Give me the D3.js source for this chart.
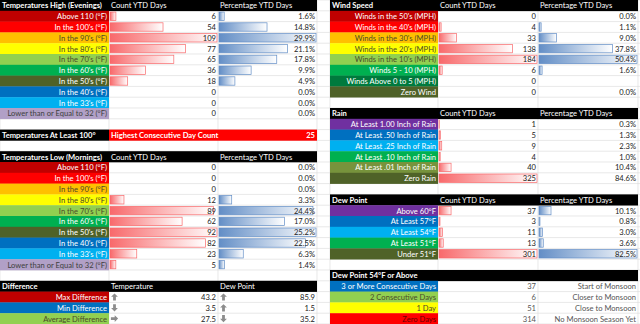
<!DOCTYPE html>
<html><head><meta charset="utf-8">
<script src="https://cdn.jsdelivr.net/npm/d3@7"></script>
<style>
body{margin:0;background:#fff}
svg{display:block}
text{font-family:Lato,'Open Sans',sans-serif;font-size:7.6px}
</style></head>
<body><svg id="c" width="640" height="324"></svg>
<script>
// ---------- DATA ----------
const tempLabels = ["Above 110 (°F)","In the 100's (°F)","In the 90's (°F)","In the 80's (°F)","In the 70's (°F)","In the 60's (°F)","In the 50's (°F)","In the 40's (°F)","In the 33's (°F)","Lower than or Equal to 32 (°F)"];
const highCounts = [6,54,109,77,65,36,18,0,0,0];
const highPct = [1.6,14.8,29.9,21.1,17.8,9.9,4.9,0.0,0.0,0.0];
const lowCounts = [0,0,0,12,89,62,92,82,23,5];
const lowPct = [0.0,0.0,0.0,3.3,24.4,17.0,25.2,22.5,6.3,1.4];
const consecutive100 = 25;

const diffLabels = ["Max Difference","Min Difference","Average Difference"];
const diffTemp = [43.2,3.5,27.5];
const diffTempDir = ["up","down","right"];
const diffDew = [85.9,1.5,35.2];
const diffDewDir = ["up","up","down"];

const windLabels = ["Winds in the 50's (MPH)","Winds in the 40's (MPH)","Winds in the 30's (MPH)","Winds in the 20's (MPH)","Winds in the 10's (MPH)","Winds 5 - 10 (MPH)","Winds Above 0 to 5 (MPH)","Zero Wind"];
const windCounts = [0,4,33,138,184,6,0,0];
const windPct = [0.0,1.1,9.0,37.8,50.4,1.6,null,0.0];

const rainLabels = ["At Least 1.00 Inch of Rain","At Least .50 Inch of Rain","At Least .25 Inch of Rain","At Least .10 Inch of Rain","At Least .01 Inch of Rain","Zero Rain"];
const rainCounts = [1,5,9,4,40,325];
const rainPct = [0.3,1.3,2.3,1.0,10.4,84.6];

const dewLabels = ["Above 60°F","At Least 57°F","At Least 54°F","At Least 51°F","Under 51°F"];
const dewCounts = [37,3,11,13,301];
const dewPct = [10.1,0.8,3.0,3.6,82.5];

const monsoonLabels = ["3 or More Consecutive Days","2 Consecutive Days","1 Day","Zero Days"];
const monsoonCounts = [37,6,51,314];
const monsoonNotes = ["Start of Monsoon","Closer to Monsoon","Close to Monsoon","No Monsoon Season Yet"];

// ---------- STYLE ----------
const DARK = "#4a4a2a";
const tempColors = ["#c00000","#ff0000","#ffc000","#ffff00","#92d050","#00b050","#4f6228","#0070c0","#00b0f0","#b1a0c7"];
const tempText = ["#fff","#fff",DARK,DARK,DARK,"#fff","#fff","#fff","#fff","#404040"];
const windColors = ["#c00000","#ff0000","#ffc000","#ffff00","#92d050","#00b050","#007a3d","#4f6228"];
const windText = ["#fff","#fff",DARK,DARK,DARK,"#fff","#fff","#fff"];
const rainColors = ["#7030a0","#0070c0","#00b0f0","#00b050","#77933c","#4f6228"];
const dewColors = ["#7030a0","#0070c0","#00b0f0","#00b050","#4f6228"];
const monsoonColors = ["#0070c0","#92d050","#ffff00","#ff0000"];
const monsoonText = ["#fff",DARK,DARK,"#6b0000"];
const diffColors = ["#c00000","#0070c0","#92d050"];
const diffText = ["#fff","#fff",DARK];

const W = 640, H = 324, NROWS = 30;
const y = d3.scaleLinear().domain([0, NROWS]).range([0, H]);
const rowH = y(1) - y(0);
const leftCols = [0,109,218,317];
const rightCols = [330,438,538,638];
const gridCols = [0,109,218,317,330,438,538,638];

const svg = d3.select("#c");
const defs = svg.append("defs");
function grad(id, c){
  const g = defs.append("linearGradient").attr("id", id).attr("x1","0").attr("x2","1").attr("y1","0").attr("y2","0");
  g.append("stop").attr("offset","0").attr("stop-color", c);
  g.append("stop").attr("offset","1").attr("stop-color", "#fff");
}
grad("gRed","#f8696b");
grad("gBlue","#638ec6");

svg.append("rect").attr("width",W).attr("height",H).attr("fill","#fff");
// gridlines
const grid = svg.append("g").attr("stroke","#d9d9d9").attr("stroke-width",0.6);
grid.selectAll("line.h").data(d3.range(NROWS+1)).join("line")
  .attr("x1",0).attr("x2",W).attr("y1",d=>y(d)).attr("y2",d=>y(d));
grid.selectAll("line.v").data(gridCols).join("line")
  .attr("y1",0).attr("y2",H).attr("x1",d=>d).attr("x2",d=>d);

const layer = svg.append("g");
function cell(x0,x1,row,fill){
  layer.append("rect").attr("x",x0).attr("y",y(row)).attr("width",x1-x0).attr("height",rowH+0.3).attr("fill",fill);
}
function txt(x,row,s,anchor,fill,weight){
  layer.append("text").attr("x",x).attr("y",y(row)+rowH-2.5).attr("text-anchor",anchor||"start")
    .attr("fill",fill||"#222").attr("font-weight",weight||"normal").text(s);
}
function header(cols,row,title,h1,h2){
  cell(cols[0],cols[3],row,"#000");
  txt(cols[0]+2,row,title,"start","#fff","bold");
  if(h1) txt(cols[1]+2,row,h1,"start","#fff");
  if(h2) txt(cols[2]+2,row,h2,"start","#fff");
}
function labels(cols,row0,labs,colors,texts){
  labs.forEach((l,i)=>{
    cell(cols[0],cols[1],row0+i,colors[i]);
    txt(cols[1]-2,row0+i,l,"end",texts? texts[i] : "#fff");
  });
}
function bars(cols,colIdx,row0,vals,gradId,stroke){
  const x0 = cols[colIdx], x1 = cols[colIdx+1];
  const sc = d3.scaleLinear().domain([0,d3.max(vals)]).range([0,x1-x0-2]);
  vals.forEach((v,i)=>{
    if(v==null||v<=0) return;
    const w = sc(v);
    layer.append("rect").attr("x",x0+1).attr("y",y(row0+i)+1.2).attr("width",w).attr("height",rowH-2.4)
      .attr("fill",`url(#${gradId})`).attr("stroke",stroke).attr("stroke-width",0.7);
  });
}
function numbers(cols,colIdx,row0,vals,fmt,fill){
  vals.forEach((v,i)=>{
    if(v==null) return;
    txt(cols[colIdx+1]-2,row0+i,fmt(v),"end",fill||"#222");
  });
}
const fmtInt = d=>String(d);
const fmtPct = d=>d.toFixed(1)+"%";
const fmt1 = d=>d.toFixed(1);

// ---- Left: Temperatures High ----
header(leftCols,0,"Temperatures High (Evenings)","Count YTD Days","Percentage YTD Days");
labels(leftCols,1,tempLabels,tempColors,tempText);
bars(leftCols,1,1,highCounts,"gRed","#f8696b");
bars(leftCols,2,1,highPct,"gBlue","#638ec6");
numbers(leftCols,1,1,highCounts,fmtInt);
numbers(leftCols,2,1,highPct,fmtPct);

// ---- Temperatures At Least 100 ----
cell(leftCols[0],leftCols[1],12,"#000");
txt(leftCols[0]+2,12,"Temperatures At Least 100°","start","#fff","bold");
cell(leftCols[1],leftCols[3],12,"#ff0000");
txt(leftCols[1]+2,12,"Highest Consecutive Day Count","start","#fff","bold");
txt(leftCols[3]-2,12,String(consecutive100),"end","#fff","bold");

// ---- Temperatures Low ----
header(leftCols,14,"Temperatures Low (Mornings)","Count YTD Days","Percentage YTD Days");
labels(leftCols,15,tempLabels,tempColors,tempText);
bars(leftCols,1,15,lowCounts,"gRed","#f8696b");
bars(leftCols,2,15,lowPct,"gBlue","#638ec6");
numbers(leftCols,1,15,lowCounts,fmtInt);
numbers(leftCols,2,15,lowPct,fmtPct);

// ---- Difference ----
header(leftCols,26,"Difference","Temperature","Dew Point");
labels(leftCols,27,diffLabels,diffColors,diffText);
numbers(leftCols,1,27,diffTemp,fmt1);
numbers(leftCols,2,27,diffDew,fmt1);
const arrowPath = "M0,-3.6 L3.4,-0.2 L1.4,-0.2 L1.4,3.6 L-1.4,3.6 L-1.4,-0.2 L-3.4,-0.2 Z";
const rot = {up:0, right:90, down:180};
function arrows(cols,colIdx,row0,dirs){
  dirs.forEach((d,i)=>{
    layer.append("path").attr("d",arrowPath).attr("fill","#8c8c8c")
      .attr("transform",`translate(${cols[colIdx]+5.5},${y(row0+i)+rowH/2}) rotate(${rot[d]})`);
  });
}
arrows(leftCols,1,27,diffTempDir);
arrows(leftCols,2,27,diffDewDir);

// ---- Right: Wind ----
header(rightCols,0,"Wind Speed","Count YTD Days","Percentage YTD Days");
labels(rightCols,1,windLabels,windColors,windText);
bars(rightCols,1,1,windCounts,"gRed","#f8696b");
bars(rightCols,2,1,windPct,"gBlue","#638ec6");
numbers(rightCols,1,1,windCounts,fmtInt);
numbers(rightCols,2,1,windPct,fmtPct);

// ---- Rain ----
header(rightCols,10,"Rain","Count YTD Days","Percentage YTD Days");
labels(rightCols,11,rainLabels,rainColors);
bars(rightCols,1,11,rainCounts,"gRed","#f8696b");
numbers(rightCols,1,11,rainCounts,fmtInt);
numbers(rightCols,2,11,rainPct,fmtPct);

// ---- Dew Point ----
header(rightCols,18,"Dew Point","Count YTD Days","Percentage YTD Days");
labels(rightCols,19,dewLabels,dewColors);
bars(rightCols,1,19,dewCounts,"gRed","#f8696b");
bars(rightCols,2,19,dewPct,"gBlue","#638ec6");
numbers(rightCols,1,19,dewCounts,fmtInt);
numbers(rightCols,2,19,dewPct,fmtPct);

// ---- Dew Point 54 or above ----
header(rightCols,25,"Dew Point 54°F or Above");
labels(rightCols,26,monsoonLabels,monsoonColors,monsoonText);
numbers(rightCols,1,26,monsoonCounts,fmtInt,"#555");
numbers(rightCols,2,26,monsoonNotes,d=>d,"#555");
</script></body></html>
